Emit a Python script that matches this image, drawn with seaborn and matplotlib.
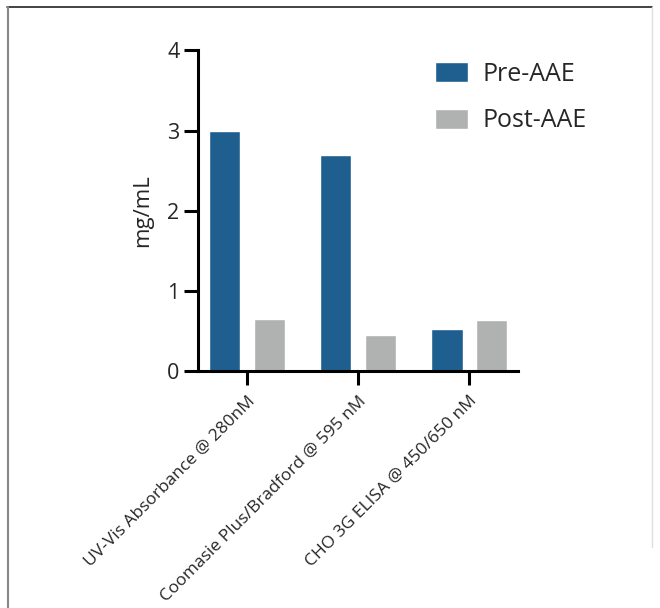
import matplotlib
matplotlib.use("Agg")
import matplotlib.pyplot as plt
from matplotlib.lines import Line2D
import seaborn as sns
import pandas as pd

# values
assays = ["UV-Vis Absorbance @ 280nM",
          "Coomasie Plus/Bradford @ 595 nM",
          "CHO 3G ELISA @ 450/650 nM"]
pre_aae = [3.0, 2.7, 0.52]
post_aae = [0.65, 0.45, 0.64]
groups = ["Pre-AAE", "Post-AAE"]
colors = ["#1F5F8F", "#B0B1B1"]
y_ticks = [0, 1, 2, 3, 4]

df = pd.DataFrame({
    "assay": assays * 2,
    "value": pre_aae + post_aae,
    "group": [groups[0]] * 3 + [groups[1]] * 3,
})

sns.set_style("ticks")
plt.rcParams["font.family"] = ["Open Sans", "DejaVu Sans"]

fig = plt.figure(figsize=(6.6, 6.08), dpi=100)
ax = fig.add_axes([0.30, 0.39, 0.485, 0.527])

sns.barplot(data=df, x="assay", y="value", hue="group", palette=colors,
            width=0.8, gap=0.3, saturation=1, ax=ax)

ax.set_xlim(-0.44, 2.44)
ax.set_ylim(0, 4)
ax.set_yticks(y_ticks)
ax.set_ylabel("mg/mL", fontsize=16, labelpad=10)
ax.set_xlabel("")
ax.set_xticks(range(len(assays)))
ax.set_xticklabels(assays, rotation=45, ha="right", rotation_mode="anchor",
                   fontsize=12.5)
ax.tick_params(axis="y", labelsize=15.5, width=2.2, length=10, color="black")
ax.tick_params(axis="x", width=2.2, length=10, color="black", pad=6)
for side in ["left", "bottom"]:
    ax.spines[side].set_linewidth(2.2)
    ax.spines[side].set_color("black")
sns.despine(ax=ax)

leg = ax.legend(loc="upper left", bbox_to_anchor=(0.625, 0.935),
                bbox_transform=fig.transFigure, frameon=False, fontsize=18,
                handlelength=1.3, handleheight=0.85, labelspacing=0.85,
                handletextpad=0.6)

# light frame round the figure
fig.add_artist(Line2D([0.011, 0.988], [0.988, 0.988], color="#222222", lw=1.2,
                      transform=fig.transFigure))
fig.add_artist(Line2D([0.012, 0.012], [0.0, 0.988], color="#888888", lw=1.5,
                      transform=fig.transFigure))
fig.add_artist(Line2D([0.988, 0.988], [0.1, 0.988], color="#DDDDDD", lw=1.0,
                      transform=fig.transFigure))

fig.savefig("out.png", dpi=100)
